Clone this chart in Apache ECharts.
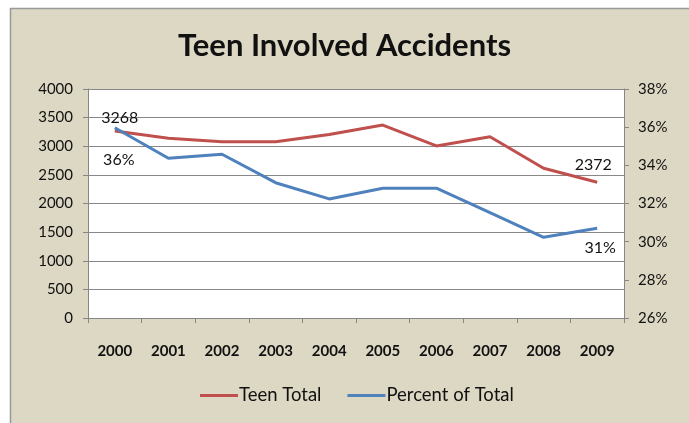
<!DOCTYPE html>
<html><head><meta charset="utf-8">
<script src="https://cdn.jsdelivr.net/npm/echarts@6/dist/echarts.min.js"></script>
<style>html,body{margin:0;padding:0;background:#fff;}#c{width:689px;height:423px;}</style>
</head><body><div id="c"></div>
<script>
var years = ['2000','2001','2002','2003','2004','2005','2006','2007','2008','2009'];
var teenTotal = [3268, 3140, 3080, 3080, 3205, 3370, 3005, 3165, 2615, 2372];
var percentOfTotal = [35.97, 34.37, 34.58, 33.09, 32.24, 32.80, 32.80, 31.52, 30.23, 30.70];
var leftTicks = [0, 4000, 500];
var rightTicks = [26, 38, 2];

var chart = echarts.init(document.getElementById('c'));
var FONT = 'Lato';
var teenData = teenTotal.map(function(v, i){
  var d = {value: v, label: {show: false}};
  if (i === 0) d.label = {show: true, position: 'top', distance: 5, offset:[5,0], formatter: String(v)};
  if (i === years.length - 1) d.label = {show: true, position: 'top', distance: 9, offset:[-4,0], formatter: String(v)};
  return d;
});
var pctData = percentOfTotal.map(function(v, i){
  var d = {value: v, label: {show: false}};
  if (i === 0) d.label = {show: true, position: 'bottom', distance: 24, offset:[4,0], formatter: Math.round(v) + '%'};
  if (i === years.length - 1) d.label = {show: true, position: 'bottom', distance: 11, offset:[3,0], formatter: Math.round(v) + '%'};
  return d;
});
chart.setOption({
  backgroundColor: '#fff',
  graphic: [
    {type:'rect', shape:{x:10,y:8,width:690,height:430}, style:{fill:'#ddd8c3'}, z:-10},
    {type:'line', shape:{x1:10,y1:8.5,x2:689,y2:8.5}, style:{stroke:'#999', lineWidth:1.5}, z:-9},
    {type:'line', shape:{x1:10.5,y1:8,x2:10.5,y2:423}, style:{stroke:'#999', lineWidth:1.5}, z:-9}
  ],
  title: {text: 'Teen Involved Accidents', left: 'center', top: 25,
    textStyle: {fontFamily: FONT, fontSize: 31, fontWeight: 'bold', color: '#111'}},
  legend: {bottom: 13, left: 195, itemWidth: 38, itemHeight: 3, itemGap: 26,
    icon: 'rect',
    textStyle: {fontFamily: FONT, fontSize: 18.5, color: '#111', padding:[0,0,0,-4]},
    data: ['Teen Total', 'Percent of Total']},
  grid: {left: 88, right: 65, top: 89, bottom: 105, backgroundColor: '#fff', show: true, borderWidth: 0},
  xAxis: {type: 'category', data: years, boundaryGap: true,
    axisLine: {lineStyle: {color: '#868686'}},
    axisTick: {show: true, length: 5, lineStyle: {color: '#868686'}},
    axisLabel: {fontFamily: FONT, fontSize: 15, fontWeight: 'bold', color: '#111', margin: 26}},
  yAxis: [
    {type: 'value', min: leftTicks[0], max: leftTicks[1], interval: leftTicks[2],
      axisLine: {show: true, lineStyle: {color: '#868686'}},
      axisTick: {show: true, length: 5, lineStyle: {color: '#868686'}},
      splitLine: {lineStyle: {color: '#888', width: 1}},
      axisLabel: {fontFamily: FONT, fontSize: 15, color: '#111', margin: 15, formatter: function(v){return String(v);}}},
    {type: 'value', min: rightTicks[0], max: rightTicks[1], interval: rightTicks[2],
      axisLine: {show: true, lineStyle: {color: '#868686'}},
      axisTick: {show: true, length: 5, lineStyle: {color: '#868686'}},
      splitLine: {show: false},
      axisLabel: {fontFamily: FONT, fontSize: 15, color: '#111', margin: 14, formatter: '{value}%'}}
  ],
  series: [
    {name: 'Teen Total', type: 'line', yAxisIndex: 0, data: teenData, symbol: 'circle', symbolSize: 0.1, showSymbol: true,
      itemStyle: {color: '#c0504d'},
      color: '#c0504d', lineStyle: {width: 3, color: '#c0504d'},
      label: {fontFamily: FONT, fontSize: 16, color: '#111'}},
    {name: 'Percent of Total', type: 'line', yAxisIndex: 1, data: pctData, symbol: 'circle', symbolSize: 0.1, showSymbol: true,
      itemStyle: {color: '#4f81bd'},
      color: '#4f81bd', lineStyle: {width: 3, color: '#4f81bd'},
      label: {fontFamily: FONT, fontSize: 16, color: '#111'}}
  ],
  animation: false
});
</script></body></html>
